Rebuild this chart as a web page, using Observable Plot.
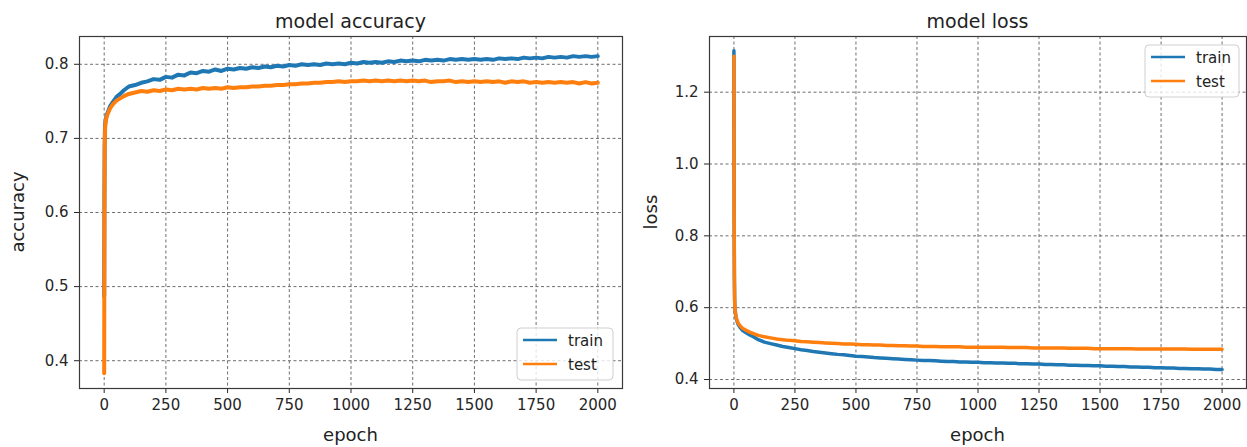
<!DOCTYPE html>
<html><head><meta charset="utf-8">
<script src="https://cdn.jsdelivr.net/npm/d3@7"></script>
<script src="https://cdn.jsdelivr.net/npm/@observablehq/plot@0.6"></script>
<style>
body{margin:0;background:#fff;}
#wrap{position:relative;width:1247px;height:447px;overflow:hidden;font-family:"DejaVu Sans",sans-serif;}
#wrap > svg, #wrap > figure{position:absolute;top:0;margin:0;}
</style>
</head><body>
<div id="wrap"></div>
<script>
// ---------- data ----------
const epochs = [0,1,2,3,4,6,8,10,14,18,25,35,50,65,80,
  100,125,150,175,200,225,250,275,300,325,
  350,375,400,425,450,475,500,525,550,575,
  600,625,650,675,700,725,750,775,800,825,
  850,875,900,925,950,975,1000,1025,1050,1075,
  1100,1125,1150,1175,1200,1225,1250,1275,1300,1325,
  1350,1375,1400,1425,1450,1475,1500,1525,1550,1575,
  1600,1625,1650,1675,1700,1725,1750,1775,1800,1825,
  1850,1875,1900,1925,1950,1975,2000];

const accTrain = [0.487,0.62,0.69,0.712,0.72,0.725,0.728,0.731,0.735,0.738,0.744,0.749,0.756,0.760,0.765,
  0.770,0.772,0.775,0.777,0.780,0.779,0.783,0.782,0.786,0.785,
  0.789,0.788,0.791,0.790,0.793,0.791,0.794,0.793,0.795,0.794,
  0.796,0.795,0.797,0.796,0.798,0.797,0.799,0.798,0.800,0.799,
  0.800,0.799,0.801,0.800,0.801,0.800,0.802,0.801,0.803,0.802,
  0.803,0.802,0.804,0.803,0.805,0.804,0.805,0.804,0.806,0.805,
  0.806,0.805,0.807,0.806,0.807,0.806,0.807,0.806,0.807,0.806,
  0.808,0.807,0.808,0.807,0.809,0.808,0.809,0.808,0.810,0.809,
  0.810,0.809,0.811,0.810,0.811,0.810,0.811];

const accTest = [0.383,0.60,0.68,0.705,0.715,0.722,0.726,0.729,0.733,0.736,0.741,0.746,0.751,0.754,0.757,
  0.760,0.762,0.764,0.763,0.765,0.764,0.766,0.765,0.767,0.766,
  0.767,0.766,0.768,0.767,0.768,0.767,0.769,0.768,0.769,0.769,
  0.770,0.770,0.771,0.771,0.772,0.772,0.773,0.773,0.774,0.774,
  0.775,0.775,0.776,0.776,0.777,0.776,0.777,0.777,0.778,0.777,
  0.778,0.777,0.778,0.777,0.778,0.777,0.778,0.777,0.778,0.776,
  0.777,0.777,0.778,0.776,0.777,0.776,0.777,0.776,0.777,0.776,
  0.777,0.775,0.777,0.776,0.777,0.775,0.776,0.775,0.776,0.775,
  0.776,0.775,0.776,0.774,0.776,0.774,0.775];

const lossTrain = [1.315,0.85,0.68,0.62,0.60,0.585,0.575,0.568,0.560,0.553,0.545,0.537,0.530,0.524,0.519,
  0.511,0.504,0.500,0.496,0.492,0.489,0.486,0.483,0.481,0.478,
  0.476,0.474,0.472,0.470,0.469,0.467,0.465,0.464,0.463,0.461,
  0.460,0.459,0.458,0.457,0.456,0.455,0.454,0.453,0.453,0.452,
  0.451,0.450,0.450,0.449,0.449,0.448,0.448,0.447,0.447,0.446,
  0.446,0.445,0.445,0.444,0.444,0.443,0.443,0.442,0.442,0.441,
  0.441,0.440,0.440,0.439,0.439,0.438,0.438,0.437,0.437,0.436,
  0.436,0.435,0.435,0.434,0.434,0.433,0.433,0.432,0.432,0.431,
  0.431,0.430,0.430,0.429,0.429,0.428,0.428];

const lossTest = [1.300,0.86,0.69,0.625,0.603,0.588,0.578,0.571,0.563,0.557,0.550,0.543,0.537,0.532,0.528,
  0.523,0.519,0.516,0.513,0.511,0.509,0.508,0.506,0.505,0.504,
  0.503,0.502,0.501,0.500,0.499,0.499,0.498,0.497,0.497,0.496,
  0.496,0.495,0.495,0.494,0.494,0.493,0.493,0.492,0.492,0.492,
  0.491,0.491,0.491,0.491,0.490,0.490,0.490,0.490,0.490,0.490,
  0.490,0.489,0.489,0.489,0.489,0.488,0.488,0.488,0.488,0.488,
  0.488,0.487,0.487,0.487,0.487,0.486,0.486,0.486,0.486,0.486,
  0.486,0.486,0.485,0.485,0.485,0.485,0.485,0.485,0.485,0.485,
  0.485,0.484,0.484,0.484,0.484,0.484,0.484];

const xTicks = [0,250,500,750,1000,1250,1500,1750,2000];
const accTicks = [0.4,0.5,0.6,0.7,0.8];
const lossTicks = [0.4,0.6,0.8,1.0,1.2];
const seriesNames = ["train","test"];
const titles = ["model accuracy","model loss"];
const yLabels = ["accuracy","loss"];
const xLabel = "epoch";

// ---------- drawing ----------
const BLUE = "#1f77b4", ORANGE = "#ff7f0e";
const toRows = arr => epochs.map((e, i) => ({epoch: e, value: arr[i]}));

function panel({width, marginRight, yDomain, yTicks, train, test, sw}) {
  const grid = {stroke: "#6e6e6e", strokeOpacity: 1, strokeWidth: 1, strokeDasharray: "3,2.5"};
  return Plot.plot({
    width, height: 447,
    marginLeft: 79, marginRight, marginTop: 36, marginBottom: 59,
    x: {domain: [-100, 2100]},
    y: {domain: yDomain},
    style: {fontFamily: "'DejaVu Sans', sans-serif", fontSize: "15px", color: "#262626", background: "transparent", overflow: "visible"},
    marks: [
      Plot.gridX({ticks: xTicks, ...grid}),
      Plot.gridY({ticks: yTicks, ...grid}),
      Plot.axisX({ticks: xTicks, tickSize: 5, tickPadding: 6, tickFormat: d3.format("d"), label: null}),
      Plot.axisY({ticks: yTicks, tickSize: 5, tickPadding: 6, tickFormat: d3.format(".1f"), label: null}),
      Plot.line(toRows(train), {x: "epoch", y: "value", stroke: BLUE, strokeWidth: sw, strokeLinejoin: "round"}),
      Plot.line(toRows(test), {x: "epoch", y: "value", stroke: ORANGE, strokeWidth: sw, strokeLinejoin: "round"}),
      Plot.frame({stroke: "#3a3a3a", strokeWidth: 1.2})
    ]
  });
}

const wrap = document.getElementById("wrap");
const left = panel({width: 630, marginRight: 8, yDomain: [0.3625, 0.8375], yTicks: accTicks, train: accTrain, test: accTest, sw: 4});
left.style.left = "0px";
const right = panel({width: 617, marginRight: 1, yDomain: [0.375, 1.355], yTicks: lossTicks, train: lossTrain, test: lossTest, sw: 3.5});
right.style.left = "630px";
wrap.appendChild(left);
wrap.appendChild(right);

// overlay: titles, axis labels, legends
const ov = d3.select(wrap).append("svg")
  .attr("width", 1247).attr("height", 447)
  .style("position", "absolute").style("left", "0px").style("top", "0px")
  .style("font-family", "'DejaVu Sans', sans-serif").style("fill", "#222");

const panels = [
  {cx: 350.5, ylabX: 24, legend: {x: 517, y: 328, w: 96, h: 52}},
  {cx: 977.5, ylabX: 657, legend: {x: 1145, y: 45, w: 94, h: 52}}
];
panels.forEach((p, i) => {
  ov.append("text").attr("x", p.cx).attr("y", 28).attr("text-anchor", "middle").style("font-size", "19px").text(titles[i]);
  ov.append("text").attr("x", p.cx).attr("y", 441).attr("text-anchor", "middle").style("font-size", "18px").text(xLabel);
  ov.append("text").attr("transform", `translate(${p.ylabX},212) rotate(-90)`).attr("text-anchor", "middle").style("font-size", "18px").text(yLabels[i]);
  const L = p.legend;
  ov.append("rect").attr("x", L.x).attr("y", L.y).attr("width", L.w).attr("height", L.h).attr("rx", 4)
    .attr("fill", "#fff").attr("fill-opacity", 0.8).attr("stroke", "#cfcfcf");
  seriesNames.forEach((name, j) => {
    const ly = L.y + 12 + j * 24;
    ov.append("line").attr("x1", L.x + 6).attr("x2", L.x + 40).attr("y1", ly).attr("y2", ly)
      .attr("stroke", j === 0 ? BLUE : ORANGE).attr("stroke-width", 2.6);
    ov.append("text").attr("x", L.x + 51).attr("y", ly + 5.5).style("font-size", "15px").text(name);
  });
});
</script>
</body></html>
